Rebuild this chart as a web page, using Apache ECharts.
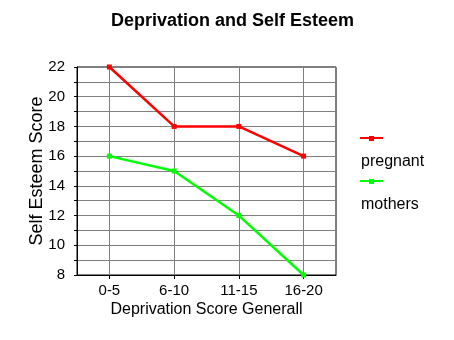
<!DOCTYPE html>
<html>
<head>
<meta charset="utf-8">
<script src="https://cdn.jsdelivr.net/npm/echarts@6/dist/echarts.min.js"></script>
<style>
  html, body { margin: 0; padding: 0; background: #fff; }
  #chart { width: 454px; height: 340px; }
</style>
</head>
<body>
<div id="chart"></div>
<script>
// Self esteem score by general deprivation score band
const categories = ['0-5', '6-10', '11-15', '16-20'];
const pregnant = [22, 18, 18, 16];
const mothers = [16, 15, 12, 8];
const seriesNames = ['pregnant', 'mothers'];
const seriesColors = ['#ff0000', '#00ff00'];
const yTicks = { min: 8, max: 22, interval: 2 };

const FONT = 'Arial, "Liberation Sans", sans-serif';

const chart = echarts.init(document.getElementById('chart'), null, { renderer: 'canvas' });

// Legend: short line with a square marker, name underneath
const legendItems = [];
seriesNames.forEach((name, i) => {
  const y0 = 138 + i * 43;
  legendItems.push(
    { type: 'line', shape: { x1: 360, y1: y0, x2: 383, y2: y0 },
      style: { stroke: seriesColors[i], lineWidth: 2 } },
    { type: 'rect', shape: { x: 369, y: y0 - 2, width: 5, height: 5 },
      style: { fill: seriesColors[i] } },
    { type: 'text', x: 361, y: y0 + 24,
      style: { text: name, font: '16px ' + FONT, fill: '#000', verticalAlign: 'middle' } }
  );
});

const lineSeries = (name, data, color) => ({
  name, type: 'line', data,
  symbol: 'rect', symbolSize: 5,
  lineStyle: { color, width: 2.5 },
  itemStyle: { color },
  animation: false
});

chart.setOption({
  backgroundColor: '#fff',
  title: {
    text: 'Deprivation and Self Esteem',
    left: 106, top: 7,
    textStyle: { fontFamily: FONT, fontSize: 18, fontWeight: 'bold', color: '#000' }
  },
  grid: {
    left: 77, top: 67, right: 118, bottom: 65,
    show: true, borderColor: '#000', borderWidth: 1, backgroundColor: 'transparent'
  },
  xAxis: {
    type: 'category', data: categories, boundaryGap: true,
    name: 'Deprivation Score Generall', nameLocation: 'middle', nameGap: 27,
    nameMoveOverlap: false,
    nameTextStyle: { fontFamily: FONT, fontSize: 16, color: '#000' },
    axisLine: { lineStyle: { color: '#000', width: 1 } },
    axisTick: { show: true, alignWithLabel: true, length: 4, lineStyle: { color: '#000' } },
    axisLabel: { fontFamily: FONT, fontSize: 15, color: '#000', margin: 8 },
    splitLine: { show: true, interval: 0, alignWithLabel: true, lineStyle: { color: '#808080', width: 1 } }
  },
  yAxis: {
    type: 'value', min: yTicks.min, max: yTicks.max, interval: yTicks.interval,
    name: 'Self Esteem Score', nameLocation: 'middle', nameGap: 31,
    nameMoveOverlap: false,
    nameTextStyle: { fontFamily: FONT, fontSize: 18, color: '#000' },
    axisLine: { show: true, lineStyle: { color: '#000', width: 1 } },
    axisTick: { show: true, length: 3, lineStyle: { color: '#000' } },
    minorTick: { show: true, splitNumber: 2, length: 3, lineStyle: { color: '#000' } },
    axisLabel: { fontFamily: FONT, fontSize: 15, color: '#000', margin: 12 },
    splitLine: { show: true, lineStyle: { color: '#808080', width: 1 } },
    minorSplitLine: { show: true, lineStyle: { color: '#808080', width: 1 } }
  },
  graphic: legendItems,
  series: [
    lineSeries(seriesNames[0], pregnant, seriesColors[0]),
    lineSeries(seriesNames[1], mothers, seriesColors[1])
  ]
});
</script>
</body>
</html>
